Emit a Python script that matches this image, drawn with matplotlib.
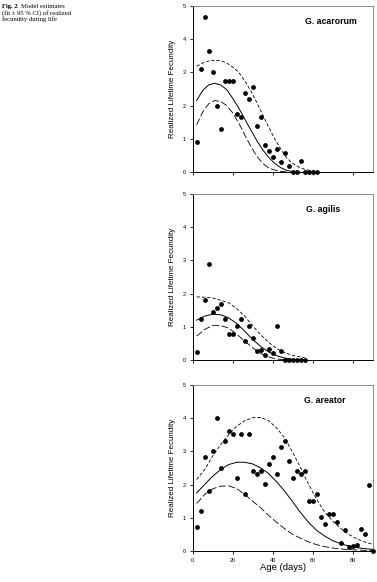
import matplotlib
matplotlib.use("Agg")
import matplotlib.pyplot as plt
import numpy as np

plt.rcParams['font.family'] = ['Liberation Sans', 'DejaVu Sans']
plt.rcParams['lines.scale_dashes'] = False

acar_age = np.arange(2, 63, 2)
acar_fec = [0.91, 3.1, 4.66, 3.65, 3.02, 2.0, 1.28, 2.75, 2.75, 2.75, 1.74, 1.64,
            2.37, 2.19, 2.55, 1.37, 1.64, 0.82, 0.64, 0.46, 0.7, 0.3, 0.57, 0.18,
            0, 0, 0.34, 0, 0, 0, 0]

agil_age = np.arange(2, 57, 2)
agil_fec = [0.23, 1.23, 1.81, 2.9, 1.46, 1.58, 1.68, 1.23, 0.78, 0.78, 1.01, 1.23,
            0.56, 1.01, 0.67, 0.26, 0.3, 0.16, 0.34, 0.21, 1.01, 0.26, 0, 0, 0,
            0, 0, 0]

area_age = np.arange(2, 91, 2)
area_fec = [0.71, 1.21, 2.82, 1.81, 3.02, 4.0, 2.51, 3.32, 3.62, 3.52, 2.21, 3.52,
            1.71, 3.52, 2.41, 2.31, 2.41, 2.01, 2.62, 2.82, 2.31, 3.12, 3.32, 2.72,
            2.21, 2.41, 2.31, 2.41, 1.51, 1.51, 1.71, 1.01, 0.81, 1.11, 1.11, 0.88,
            0.25, 0.63, 0.13, 0.15, 0.17, 0.67, 0.5, 2.0, 0.0]

# model fit and 95% CI curves, sampled from the figure
acar_cx = [2, 5, 8, 11, 14, 17, 20, 23, 26, 29, 32, 35, 38, 41, 44, 47, 50, 53, 56, 59, 62]
acar_fit = [2.15, 2.45, 2.62, 2.67, 2.62, 2.48, 2.22, 1.93, 1.6, 1.27, 0.95, 0.67,
            0.44, 0.26, 0.13, 0.05, 0.01, 0.0, None, None, None]
acar_hi = [3.18, 3.28, 3.34, 3.36, 3.35, 3.28, 3.16, 3.0, 2.75, 2.45, 2.1, 1.72,
           1.35, 1.0, 0.7, 0.42, 0.26, 0.15, 0.08, 0.04, 0.02]
acar_lo = [1.42, 1.8, 2.05, 2.15, 2.12, 2.0, 1.78, 1.48, 1.12, 0.78, 0.48, 0.26,
           0.12, 0.06, 0.02, 0.0, None, None, None, None, None]

agil_cx = [2, 6, 10, 14, 18, 22, 26, 30, 34, 38, 42, 46, 50, 54, 56]
agil_fit = [1.2, 1.32, 1.38, 1.36, 1.27, 1.1, 0.87, 0.62, 0.41, 0.24, 0.13, 0.06, 0.02, 0.01, 0.0]
agil_hi = [1.9, 1.89, 1.87, 1.8, 1.72, 1.55, 1.32, 1.03, 0.76, 0.53, 0.35, 0.22, 0.14, 0.09, 0.07]
agil_lo = [0.72, 0.92, 1.04, 1.04, 0.96, 0.78, 0.57, 0.37, 0.2, 0.09, 0.03, 0.01, 0.0, None, None]

area_cx = [2, 6, 10, 14, 18, 22, 26, 30, 34, 38, 42, 46, 50, 54, 58, 62, 66, 70, 74, 78, 82, 86, 90]
area_fit = [1.75, 2.0, 2.25, 2.45, 2.6, 2.67, 2.67, 2.62, 2.5, 2.33, 2.08, 1.8, 1.48,
            1.15, 0.86, 0.62, 0.45, 0.31, 0.22, 0.15, 0.1, 0.07, 0.05]
area_hi = [2.15, 2.45, 2.85, 3.2, 3.5, 3.75, 3.92, 4.01, 4.02, 3.92, 3.7, 3.4, 2.97,
           2.5, 2.0, 1.55, 1.17, 0.9, 0.68, 0.5, 0.37, 0.27, 0.2]
area_lo = [1.43, 1.7, 1.87, 1.95, 1.96, 1.88, 1.7, 1.5, 1.3, 1.07, 0.86, 0.67, 0.5,
           0.38, 0.27, 0.19, 0.13, 0.09, 0.06, 0.04, 0.03, 0.02, 0.01]

species = ["G. acarorum", "G. agilis", "G. areator"]
label_x = [0.77, 0.725, 0.735]

panels = [
    (acar_age, acar_fec, acar_cx, acar_fit, acar_hi, acar_lo),
    (agil_age, agil_fec, agil_cx, agil_fit, agil_hi, agil_lo),
    (area_age, area_fec, area_cx, area_fit, area_hi, area_lo),
]


def clean(xs, ys):
    pts = [(a, b) for a, b in zip(xs, ys) if b is not None]
    return [p[0] for p in pts], [p[1] for p in pts]


fig = plt.figure(figsize=(3.77, 5.82), dpi=100)
bottoms = [0.7045, 0.3814, 0.0533]

for i, (age, fec, cx, fit, hi, lo) in enumerate(panels):
    ax = fig.add_axes([0.511, bottoms[i], 0.4775, 0.2855])
    x, y = clean(cx, hi)
    ax.plot(x, y, color='black', lw=0.6, dashes=(2.4, 1.4))
    x, y = clean(cx, fit)
    ax.plot(x, y, color='black', lw=0.7)
    x, y = clean(cx, lo)
    ax.plot(x, y, color='black', lw=0.6, dashes=(5, 1.8))
    ax.scatter(age, fec, s=12, color='black', zorder=3, clip_on=False, linewidths=0)

    ax.set_xlim(0, 90)
    ax.set_ylim(0, 5)
    ax.set_xticks([0, 20, 40, 60, 80])
    ax.set_yticks([0, 1, 2, 3, 4, 5])
    ax.tick_params(direction='out', length=2.5, width=0.6, pad=2.5, labelsize=4)
    for s in ['top', 'right']:
        ax.spines[s].set_color('#8c8c8c')
        ax.spines[s].set_linewidth(0.7)
    for s in ['left', 'bottom']:
        ax.spines[s].set_linewidth(0.7)

    ax.text(label_x[i], 0.905, species[i], transform=ax.transAxes,
            ha='center', va='center', fontsize=6.3, fontweight='bold')
    ax.set_ylabel("Realized Lifetime Fecundity", fontsize=5.8)
    ax.yaxis.set_label_coords(-0.093, 0.5)
    if i < 2:
        ax.set_xticklabels([])
    else:
        ax.set_xlabel("Age (days)", fontsize=6.8)
        ax.xaxis.set_label_coords(0.5, -0.075)

# caption in the top left corner
serif = ['Liberation Serif', 'DejaVu Serif']
fig.text(0.005, 0.9935, "Fig. 2", fontsize=4.8, fontweight='bold',
         family=serif, va='top', ha='left')
fig.text(0.056, 0.9935, "Model estimates", fontsize=4.8,
         family=serif, va='top', ha='left')
fig.text(0.005, 0.9825, "(fit \u00b1 95 % CI) of realized", fontsize=4.8,
         family=serif, va='top', ha='left')
fig.text(0.005, 0.9715, "fecundity during life", fontsize=4.8,
         family=serif, va='top', ha='left')

fig.savefig("out.png", dpi=100)
